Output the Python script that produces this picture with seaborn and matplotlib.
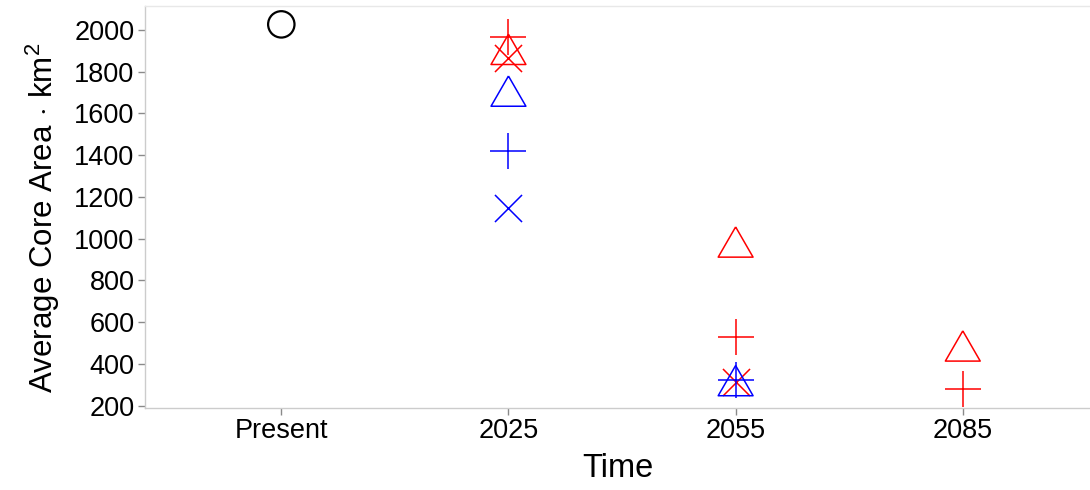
import pandas as pd
import seaborn as sns
import matplotlib.pyplot as plt

# data
times = ["Present", "2025", "2055", "2085"]

present_area = [2027]

red_plus_times = ["2025", "2055", "2085"]
red_plus = [1965, 529, 280]
red_tri_times = ["2025", "2055", "2085"]
red_tri = [1883, 960, 462]
red_x_times = ["2025", "2055"]
red_x = [1865, 314]

blue_plus_times = ["2025", "2055"]
blue_plus = [1419, 321]
blue_tri_times = ["2025", "2055"]
blue_tri = [1683, 296]
blue_x_times = ["2025"]
blue_x = [1146]

# equilateral triangle, centred on its centroid
tri = [(0, 1), (-0.866, -0.5), (0.866, -0.5), (0, 1)]

sns.set_theme(style="white")
plt.rcParams["font.family"] = ["Liberation Sans", "DejaVu Sans"]
plt.rcParams["mathtext.fontset"] = "custom"
plt.rcParams["mathtext.rm"] = "Liberation Sans"
plt.rcParams["mathtext.it"] = "Liberation Sans:italic"
plt.rcParams["text.color"] = "black"
plt.rcParams["axes.labelcolor"] = "black"
plt.rcParams["xtick.labelcolor"] = "black"
plt.rcParams["ytick.labelcolor"] = "black"

fig = plt.figure(figsize=(10.9, 4.9), dpi=100)
ax = fig.add_axes([145 / 1090, 82 / 490, 945 / 1090, 402 / 490])

# groups: (times, values, colour, marker, size, hollow, linewidth)
groups = [
    (["Present"], present_area, "black", "o", 19 ** 2, True, 1.6),
    (red_plus_times, red_plus, "#ff0000", "+", 26.5 ** 2, False, 1.1),
    (red_x_times, red_x, "#ff0000", "x", 19.5 ** 2, False, 1.1),
    (red_tri_times, red_tri, "#ff0000", tri, 29 ** 2, True, 1.1),
    (blue_plus_times, blue_plus, "#0000ff", "+", 26.5 ** 2, False, 1.1),
    (blue_x_times, blue_x, "#0000ff", "x", 19.5 ** 2, False, 1.1),
    (blue_tri_times, blue_tri, "#0000ff", tri, 29 ** 2, True, 1.1),
]

for t, v, col, mk, s, hollow, lw in groups:
    df = pd.DataFrame({"Time": t, "Area": v})
    if hollow:
        sns.scatterplot(data=df, x="Time", y="Area", ax=ax, marker=mk, s=s,
                        color=col, facecolor="none", edgecolor=col, linewidth=lw,
                        zorder=3, clip_on=False)
    else:
        sns.scatterplot(data=df, x="Time", y="Area", ax=ax, marker=mk, s=s,
                        color=col, linewidth=lw, zorder=3, clip_on=False)

ax.set_xticks(range(len(times)))
ax.set_xticklabels(times)
ax.set_xlim(-0.6, 3.56)
ax.set_ylim(189, 2115)
ax.set_yticks(range(200, 2001, 200))

ax.set_xlabel("Time", fontsize=23.5, labelpad=6)
ax.set_ylabel(r"Average Core Area$\,\cdot\,$km$^2$", fontsize=22.5)
ax.yaxis.set_label_coords(-0.088, 0.474)
ax.tick_params(axis="both", labelsize=19.5, length=5, width=1, color="#8a8a8a",
               direction="out", left=True, bottom=True, pad=2.5)

for side in ["left", "bottom"]:
    ax.spines[side].set_color("#cccccc")
    ax.spines[side].set_linewidth(1)
ax.spines["top"].set_color("#e8e8e8")
ax.spines["top"].set_linewidth(1)
ax.spines["right"].set_visible(False)

fig.savefig("out.png", dpi=100)
